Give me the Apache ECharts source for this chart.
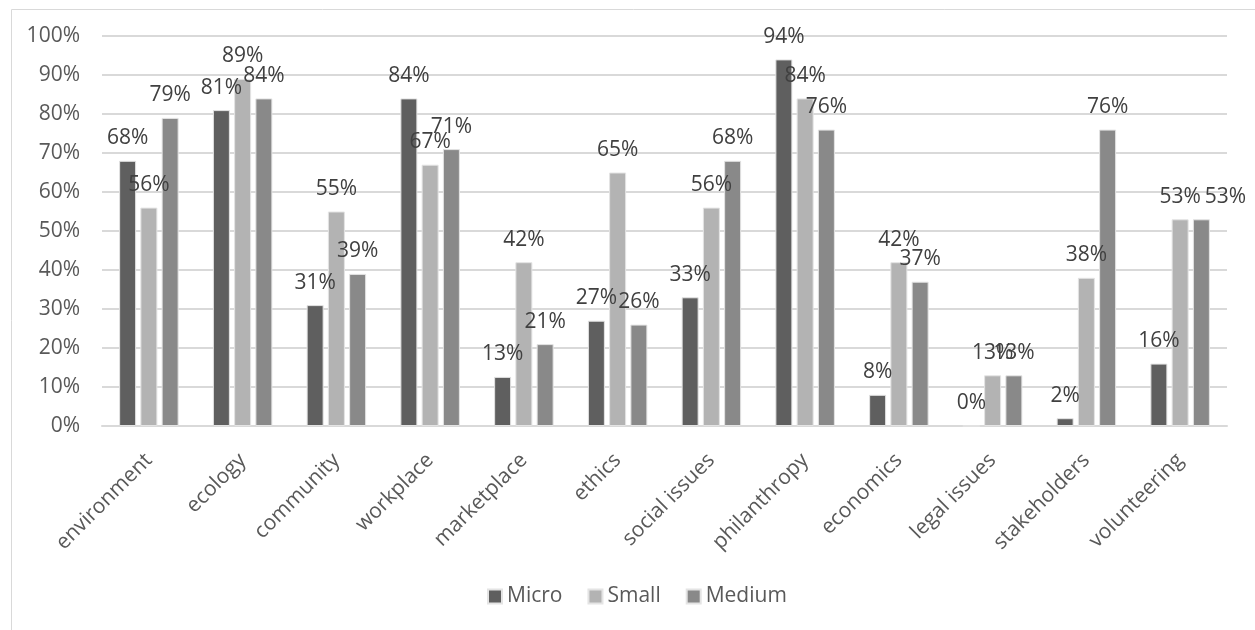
<!DOCTYPE html>
<html>
<head>
<meta charset="utf-8">
<script src="https://cdn.jsdelivr.net/npm/echarts@6/dist/echarts.min.js"></script>
<style>html,body{margin:0;padding:0;background:#fff}#c{width:1255px;height:630px}</style>
</head>
<body>
<div id="c"></div>
<script>
const categories = ['environment','ecology','community','workplace','marketplace','ethics','social issues','philanthropy','economics','legal issues','stakeholders','volunteering'];
const micro  = [68, 81, 31, 84, 12.6, 27, 33, 94, 8, 0, 2, 16];
const small  = [56, 89, 55, 67, 42, 65, 56, 84, 42, 13, 38, 53];
const medium = [79, 84, 39, 71, 21, 26, 68, 76, 37, 13, 76, 53];
const yTicks = [0,10,20,30,40,50,60,70,80,90,100];

const FONT = 'Open Sans';
const FS = 21;
const chart = echarts.init(document.getElementById('c'));
function mk(name, data, color, offsets){
  return {
    name, type:'bar', barWidth:17, barGap:'25%',
    data: data.map((v,i)=> offsets && offsets[i] ? {value:v, label:{offset:offsets[i]}} : v),
    itemStyle:{color, borderColor:'#e4e4e4', borderWidth:1},
    label:{show:true, position:'top', distance:12, color:'#404040', fontFamily:FONT, fontSize:FS,
      formatter:p=>Math.round(p.value)+'%'},
    emphasis:{disabled:true}
  };
}
const mediumOffsets = {11:[24,0]};
chart.setOption({
  animation:false,
  graphic:[{type:'rect', left:9, top:7, shape:{width:1400, height:800}, style:{fill:'none', stroke:'#d9d9d9', lineWidth:1}, silent:true}],
  grid:{left:102, right:28, top:36, bottom:204, containLabel:false},
  legend:{bottom:18, left:482, itemWidth:14, itemHeight:14, itemGap:25, icon:'rect',
    textStyle:{fontFamily:FONT, fontSize:FS, color:'#595959'}},
  xAxis:{type:'category', data:categories,
    axisLine:{lineStyle:{color:'#d9d9d9', width:2}}, axisTick:{show:false},
    axisLabel:{rotate:45, interval:0, margin:31, fontFamily:FONT, fontSize:FS, color:'#595959'}},
  yAxis:{type:'value', min:0, max:100, interval:10,
    axisLine:{show:false}, axisTick:{show:false},
    splitLine:{lineStyle:{color:'#d9d9d9', width:2}},
    axisLabel:{margin:22, fontFamily:FONT, fontSize:FS, color:'#595959', formatter:v=>yTicks.includes(v)?v+'%':''}},
  series:[mk('Micro', micro, '#5f5f5f'), mk('Small', small, '#b3b3b3'), mk('Medium', medium, '#898989', mediumOffsets)]
});
</script>
</body>
</html>
